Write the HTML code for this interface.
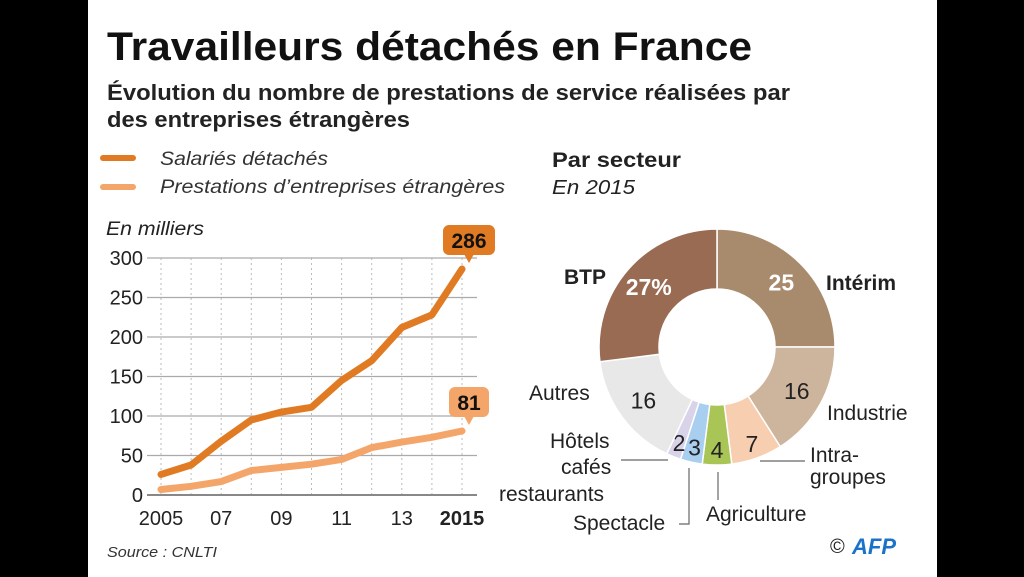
<!DOCTYPE html>
<html><head><meta charset="utf-8"><style>
html,body{margin:0;padding:0;background:#000;}
svg{display:block;font-family:"Liberation Sans",sans-serif;}
</style></head><body>
<svg id="c" width="1024" height="577" viewBox="0 0 1024 577">
<rect x="0" y="0" width="1024" height="577" fill="#000"/>
<rect x="88" y="0" width="849" height="577" fill="#fff"/>
<text x="107" y="60" font-size="40" font-weight="bold" fill="#111" textLength="645" lengthAdjust="spacingAndGlyphs">Travailleurs détachés en France</text>
<text x="107" y="100" font-size="22" font-weight="bold" fill="#222" textLength="683" lengthAdjust="spacingAndGlyphs">Évolution du nombre de prestations de service réalisées par</text>
<text x="107" y="127" font-size="22" font-weight="bold" fill="#222" textLength="303" lengthAdjust="spacingAndGlyphs">des entreprises étrangères</text>
<line x1="103" y1="158" x2="133" y2="158" stroke="#e07b24" stroke-width="6" stroke-linecap="round"/>
<text x="160" y="165" font-size="19" font-style="italic" fill="#333" textLength="168" lengthAdjust="spacingAndGlyphs">Salariés détachés</text>
<line x1="103" y1="187" x2="133" y2="187" stroke="#f4a66a" stroke-width="6" stroke-linecap="round"/>
<text x="160" y="193" font-size="19" font-style="italic" fill="#333" textLength="345" lengthAdjust="spacingAndGlyphs">Prestations d’entreprises étrangères</text>
<text x="552" y="167" font-size="21" font-weight="bold" fill="#222" textLength="129" lengthAdjust="spacingAndGlyphs">Par secteur</text>
<text x="552" y="194" font-size="20" font-style="italic" fill="#222" textLength="83" lengthAdjust="spacingAndGlyphs">En 2015</text>
<text x="106" y="235" font-size="19" font-style="italic" fill="#222" textLength="98" lengthAdjust="spacingAndGlyphs">En milliers</text>
<text x="107" y="557" font-size="15" font-style="italic" fill="#333" textLength="110" lengthAdjust="spacingAndGlyphs">Source : CNLTI</text>
<text x="830" y="553" font-size="20" fill="#222">©</text>
<text x="852" y="554" font-size="22" font-weight="bold" font-style="italic" fill="#1a73c9">AFP</text>
<g id="line"></g>
<g id="donut"></g>
</svg>
<script>
const years=[2005,2006,2007,2008,2009,2010,2011,2012,2013,2014,2015];
const xTickLabels=["2005","07","09","11","13","2015"];
const xTickYears=[2005,2007,2009,2011,2013,2015];
const yTicks=[0,50,100,150,200,250,300];
const salaries=[26,38,68,95,105,111,145,170,212,228,286];
const prestations=[7,11,17,31,35,39,45,60,67,73,81];
const sectors=["Intérim","Industrie","Intra-groupes","Agriculture","Spectacle","Hôtels cafés restaurants","Autres","BTP"];
const shares=[25,16,7,4,3,2,16,27];
const shareLabels=["25","16","7","4","3","2","16","27%"];
const sectorColors=["#a88a6c","#cdb49d","#f7cfb0","#a8c556","#a8cff0","#d9d3ea","#e8e8e8","#9a6b53"];

const NS="http://www.w3.org/2000/svg";
function mk(t,a,p){const e=document.createElementNS(NS,t);for(const k in a)e.setAttribute(k,a[k]);p.appendChild(e);return e;}
const X=y=>161+(y-2005)*(462-161)/10;
const Y=v=>495-v*(495-258)/300;
const g=document.getElementById('line');
years.forEach(yr=>{const l=mk('line',{x1:X(yr),x2:X(yr),y1:258,y2:495,stroke:'#bbb','stroke-width':1,'stroke-dasharray':'2,3'},g);

});
yTicks.forEach(v=>{const l=mk('line',{x1:147,x2:477,y1:Y(v),y2:Y(v),stroke:v===0?'#888':'#aaa','stroke-width':v===0?2:1.2},g);


const t=mk('text',{x:143,y:Y(v)+7,'font-size':20,'text-anchor':'end',fill:'#222'},g);t.textContent=v;

});
xTickYears.forEach((yr,i)=>{const t=mk('text',{x:X(yr),y:525,'font-size':20,'text-anchor':'middle',fill:'#222','font-weight':i===5?'bold':'normal'},g);t.textContent=xTickLabels[i];

});
function series(vals,col,name){const p=mk('polyline',{points:vals.map((v,i)=>X(years[i])+','+Y(v)).join(' '),fill:'none',stroke:col,'stroke-width':7,'stroke-linejoin':'round','stroke-linecap':'round'},g);

}
series(prestations,'#f4a66a','line-prestations');
series(salaries,'#e07b24','line-salaries');
function callout(v,col,name,w){const cx=X(2015)+7,cy=Y(v)-27;
const r=mk('rect',{x:cx-w/2,y:cy-17,width:w,height:30,rx:6,fill:col},g);


const tri=mk('polygon',{points:`${cx-5},${cy+12} ${cx+5},${cy+12} ${cx},${cy+21}`,fill:col},g);


const t=mk('text',{x:cx,y:cy+6,'font-size':21,'font-weight':'bold','text-anchor':'middle',fill:'#111'},g);t.textContent=v;

}
callout(salaries[10],'#e07b24','callout-salaries',52);
callout(prestations[10],'#f4a66a','callout-prestations',40);

const d=document.getElementById('donut');
const cx=717,cy=347,R=118,r=58;
const tot=shares.reduce((a,b)=>a+b,0);
let a0=-Math.PI/2;
const pt=(rad,a)=>[cx+rad*Math.cos(a),cy+rad*Math.sin(a)];
shares.forEach((s,i)=>{const a1=a0+s/tot*2*Math.PI;const lg=(a1-a0)>Math.PI?1:0;
const [x1,y1]=pt(R,a0),[x2,y2]=pt(R,a1),[x3,y3]=pt(r,a1),[x4,y4]=pt(r,a0);
const p=mk('path',{d:`M${x1},${y1}A${R},${R} 0 ${lg} 1 ${x2},${y2}L${x3},${y3}A${r},${r} 0 ${lg} 0 ${x4},${y4}Z`,fill:sectorColors[i],stroke:'#fff','stroke-width':1.5},d);


const am=(a0+a1)/2;const small=s<10;const lr=small?(r+R)/2+15:(r+R)/2+3;const [lx,ly]=pt(lr,am);
const white=(i===0||i===7);
const t=mk('text',{x:lx,y:ly+8,'font-size':23,'text-anchor':'middle',fill:white?'#fff':'#222','font-weight':white?'bold':'normal'},d);t.textContent=shareLabels[i];


a0=a1;});
const labels=[["BTP",564,284,'bold'],["Intérim",826,290,'bold'],["Industrie",827,420,'normal'],["Autres",529,400,'normal'],
["Intra-",810,462,'normal'],["groupes",810,484,'normal'],["Hôtels",550,448,'normal'],["cafés",561,474,'normal'],["restaurants",499,501,'normal'],
["Spectacle",573,530,'normal'],["Agriculture",706,521,'normal']];
labels.forEach(l=>{const t=mk('text',{x:l[1],y:l[2],'font-size':21,fill:'#222','font-weight':l[3]},d);t.textContent=l[0];

});
const leaders=["M621,460 L668,460","M689,468 L689,524 L679,524","M718,472 L718,500","M760,461 L805,461"];
leaders.forEach(s=>{const p=mk('path',{d:s,fill:'none',stroke:'#666','stroke-width':1.2},d);

});
</script>
</body></html>
